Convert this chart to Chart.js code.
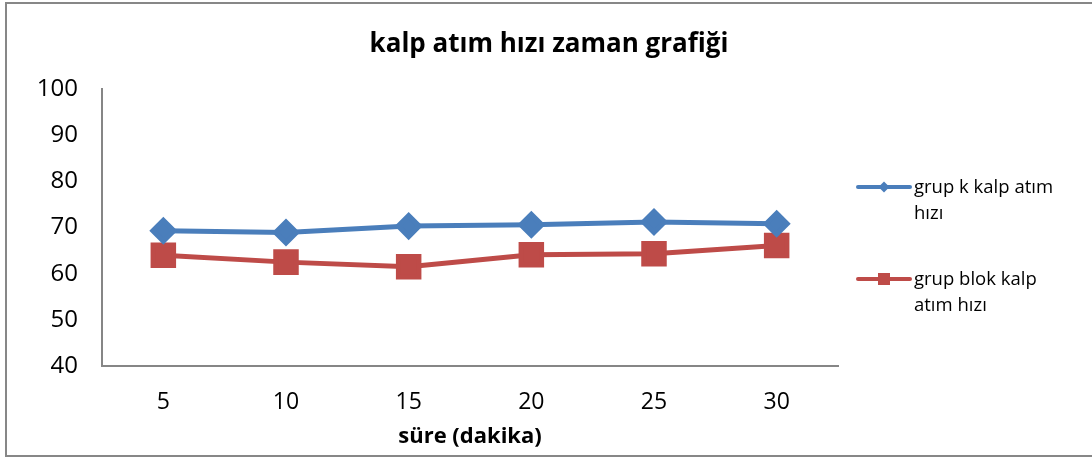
<!DOCTYPE html>
<html>
<head>
<meta charset="utf-8">
<script src="https://cdn.jsdelivr.net/npm/chart.js@4"></script>
<style>
  html, body { margin: 0; padding: 0; background: #ffffff; }
  #wrap { position: relative; width: 1092px; height: 460px; }
</style>
</head>
<body>
<div id="wrap"><canvas id="c" width="1092" height="460"></canvas></div>
<script>
const categories = ['5', '10', '15', '20', '25', '30'];
const grupK = [69.3, 68.9, 70.3, 70.6, 71.2, 70.8];
const grupBlok = [64.0, 62.5, 61.5, 64.1, 64.3, 66.1];
const seriesLabels = [['grup k kalp atım', 'hızı'], ['grup blok kalp', 'atım hızı']];
const yTicks = [40, 50, 60, 70, 80, 90, 100];
const titleText = 'kalp atım hızı zaman grafiği';
const xTitle = 'süre (dakika)';

const FONT = "'Open Sans', sans-serif";
const BLUE = '#4a7ebb';
const RED = '#be4b48';

const borderPlugin = {
  id: 'outerBorder',
  beforeDraw(chart) {
    const ctx = chart.ctx;
    ctx.save();
    ctx.fillStyle = '#ffffff';
    ctx.fillRect(0, 0, chart.width, chart.height);
    ctx.strokeStyle = '#878787';
    ctx.lineWidth = 2;
    ctx.strokeRect(6, 3, 1100, 453);
    ctx.restore();
  }
};

const titlePlugin = {
  id: 'customTitle',
  afterDraw(chart) {
    const ctx = chart.ctx;
    ctx.save();
    ctx.fillStyle = '#000000';
    ctx.font = "bold 26px " + FONT;
    ctx.textAlign = 'center';
    ctx.textBaseline = 'middle';
    ctx.fillText(titleText, 549, 45);
    ctx.restore();
  }
};

const legendPlugin = {
  id: 'customLegend',
  afterDraw(chart) {
    const ctx = chart.ctx;
    ctx.save();
    const items = [
      { y: 187, color: BLUE, style: 'diamond' },
      { y: 279, color: RED, style: 'square' }
    ];
    items.forEach((it, i) => {
      ctx.strokeStyle = it.color;
      ctx.lineWidth = 4;
      ctx.lineCap = 'round';
      ctx.beginPath();
      ctx.moveTo(858, it.y);
      ctx.lineTo(910, it.y);
      ctx.stroke();
      ctx.fillStyle = it.color;
      if (it.style === 'diamond') {
        ctx.beginPath();
        ctx.moveTo(884, it.y - 5.5);
        ctx.lineTo(889.5, it.y);
        ctx.lineTo(884, it.y + 5.5);
        ctx.lineTo(878.5, it.y);
        ctx.closePath();
        ctx.fill();
      } else {
        ctx.fillRect(878, it.y - 6, 12, 12);
      }
      ctx.fillStyle = '#000000';
      ctx.font = "18.5px " + FONT;
      ctx.textBaseline = 'middle';
      ctx.textAlign = 'left';
      seriesLabels[i].forEach((line, j) => {
        ctx.fillText(line, 914, it.y + 1 + j * 26);
      });
    });
    ctx.restore();
  }
};

new Chart(document.getElementById('c'), {
  type: 'line',
  data: {
    labels: categories,
    datasets: [
      {
        label: seriesLabels[0].join(' '),
        data: grupK,
        borderColor: BLUE,
        backgroundColor: BLUE,
        borderWidth: 5,
        pointStyle: 'rectRot',
        pointRadius: 10.5,
        pointHoverRadius: 10.5,
        tension: 0
      },
      {
        label: seriesLabels[1].join(' '),
        data: grupBlok,
        borderColor: RED,
        backgroundColor: RED,
        borderWidth: 5,
        pointStyle: 'rect',
        pointRadius: 14.5,
        pointHoverRadius: 14.5,
        tension: 0
      }
    ]
  },
  options: {
    responsive: false,
    animation: false,
    devicePixelRatio: 1,
    events: [],
    layout: { padding: { left: 0, top: 89, right: 254, bottom: 0 } },
    plugins: {
      legend: { display: false },
      tooltip: { enabled: false },
      title: { display: false }
    },
    scales: {
      x: {
        type: 'category',
        offset: true,
        grid: { display: false, drawTicks: false },
        border: { display: true, color: '#868686', width: 2 },
        ticks: { color: '#000000', font: { family: FONT, size: 23 }, padding: 23, maxRotation: 0 },
        title: {
          display: true,
          text: xTitle,
          color: '#000000',
          font: { family: FONT, size: 22, weight: 'bold', lineHeight: 1.2 },
          padding: { top: 0, bottom: 10 }
        },
        afterFit(scale) { scale.height = 94; }
      },
      y: {
        min: 40,
        max: 100,
        afterBuildTicks(scale) { scale.ticks = yTicks.map(v => ({ value: v })); },
        grid: { display: false, drawTicks: false },
        border: { display: true, color: '#868686', width: 2 },
        ticks: { color: '#000000', font: { family: FONT, size: 24 }, padding: 24 },
        afterFit(scale) { scale.width = 102; }
      }
    }
  },
  plugins: [borderPlugin, titlePlugin, legendPlugin]
});
</script>
</body>
</html>
